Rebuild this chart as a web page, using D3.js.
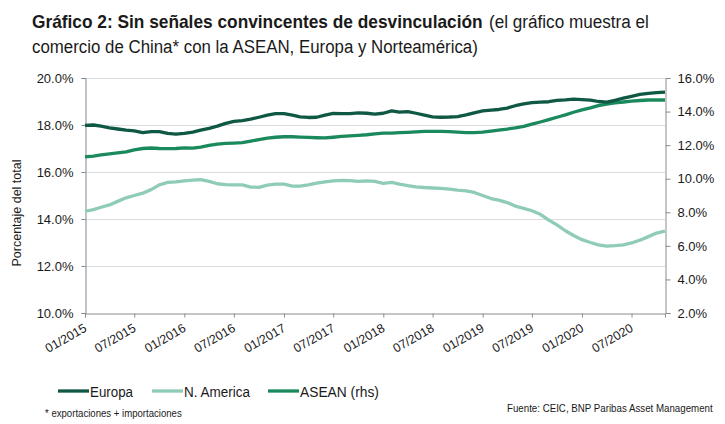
<!DOCTYPE html>
<html>
<head>
<meta charset="utf-8">
<script src="https://cdn.jsdelivr.net/npm/d3@7"></script>
<style>
  body { margin: 0; background: #fff; }
  text { font-family: "Liberation Sans Narrow", "Arial Narrow", "Liberation Sans", Arial, sans-serif; fill: #1a1a1a; }
</style>
</head>
<body>
<svg id="chart" width="725" height="424"></svg>
<script>
// monthly shares of China's trade, 01/2015 .. 11/2020
const firstMonth = new Date(2015, 0, 1);
const lastMonth = new Date(2020, 10, 1);

const europa = [17.98, 18.0, 17.95, 17.88, 17.83, 17.78, 17.75, 17.68, 17.72, 17.72,
  17.64, 17.61, 17.64, 17.7, 17.78, 17.86, 17.95, 18.07, 18.15, 18.19,
  18.25, 18.33, 18.42, 18.48, 18.48, 18.42, 18.35, 18.32, 18.33, 18.42,
  18.49, 18.48, 18.48, 18.52, 18.5, 18.46, 18.5, 18.6, 18.55, 18.57,
  18.5, 18.42, 18.35, 18.33, 18.34, 18.36, 18.43, 18.52, 18.6, 18.63,
  18.66, 18.72, 18.82, 18.9, 18.95, 18.97, 18.99, 19.05, 19.07, 19.1,
  19.08, 19.06, 19.0, 18.97, 19.05, 19.14, 19.22, 19.3, 19.35, 19.38, 19.4];

const nAmerica = [14.33, 14.4, 14.5, 14.6, 14.75, 14.9, 15.0, 15.1, 15.25, 15.45,
  15.56, 15.58, 15.62, 15.65, 15.68, 15.6, 15.5, 15.46, 15.45, 15.45,
  15.36, 15.35, 15.44, 15.48, 15.48, 15.4, 15.4, 15.45, 15.53, 15.58,
  15.62, 15.64, 15.63, 15.6, 15.62, 15.6, 15.52, 15.56, 15.48, 15.42,
  15.37, 15.34, 15.32, 15.3, 15.27, 15.23, 15.2, 15.13, 15.0, 14.87,
  14.8, 14.7, 14.55, 14.45, 14.35, 14.2, 13.95, 13.75, 13.5, 13.3,
  13.12, 13.0, 12.9, 12.85, 12.87, 12.9, 12.98, 13.1, 13.25, 13.4, 13.48];

// right hand scale
const asean = [11.3, 11.35, 11.42, 11.48, 11.54, 11.6, 11.72, 11.8, 11.83, 11.8,
  11.79, 11.8, 11.84, 11.82, 11.88, 11.98, 12.06, 12.1, 12.12, 12.15,
  12.24, 12.33, 12.42, 12.47, 12.5, 12.5, 12.48, 12.46, 12.44, 12.43,
  12.47, 12.52, 12.55, 12.58, 12.62, 12.67, 12.72, 12.72, 12.74, 12.76,
  12.79, 12.82, 12.82, 12.82, 12.81, 12.78, 12.74, 12.74, 12.78, 12.84,
  12.9, 12.96, 13.03, 13.12, 13.25, 13.38, 13.52, 13.66, 13.8, 13.96,
  14.1, 14.22, 14.35, 14.44, 14.52, 14.57, 14.62, 14.66, 14.69, 14.7, 14.69];

const xTickLabels = ["01/2015", "07/2015", "01/2016", "07/2016", "01/2017", "07/2017",
  "01/2018", "07/2018", "01/2019", "07/2019", "01/2020", "07/2020"];
const leftTicks = [10, 12, 14, 16, 18, 20];
const rightTicks = [2, 4, 6, 8, 10, 12, 14, 16];

const colors = { europa: "#0f5844", nAmerica: "#8fccb7", asean: "#1a8a5c" };

const svg = d3.select("#chart");
const pLeft = 85, pRight = 665, pTop = 78, pBottom = 313;

const months = d3.timeMonth.range(firstMonth, d3.timeMonth.offset(lastMonth, 1));
const parseTick = d3.timeParse("%m/%Y");

const x = d3.scaleTime().domain([firstMonth, lastMonth]).range([pLeft, pRight]);
const yL = d3.scaleLinear().domain([10, 20]).range([pBottom, pTop]);
const yR = d3.scaleLinear().domain([2, 16]).range([pBottom, pTop]);

// squeeze a text horizontally so it takes the width seen in the original (narrow font)
function squeeze(sel, width, place, extra) {
  const w = sel.node().getComputedTextLength();
  sel.attr("transform", `${place} ${extra || ""} scale(${(width / w).toFixed(4)},1)`);
  return sel;
}

// title
squeeze(svg.append("text").style("font-size", "19px").style("font-weight", "bold")
  .text("Gráfico 2: Sin señales convincentes de desvinculación"), 451, "translate(32,28)");
squeeze(svg.append("text").style("font-size", "19px")
  .text("(el gráfico muestra el"), 160, "translate(489,28)");
squeeze(svg.append("text").style("font-size", "19px")
  .text("comercio de China* con la ASEAN, Europa y Norteamérica)"), 446, "translate(32,53)");

// gridlines
svg.append("g").selectAll("line").data(leftTicks.slice(1)).join("line")
  .attr("x1", pLeft).attr("x2", pRight)
  .attr("y1", d => yL(d) + 0.5).attr("y2", d => yL(d) + 0.5)
  .attr("stroke", "#d9dce1").attr("stroke-width", 1);

// left axis
const axL = svg.append("g").attr("transform", `translate(${pLeft + 0.5},0)`)
  .call(d3.axisLeft(yL).tickValues(leftTicks).tickFormat(d => d.toFixed(1) + "%").tickSize(4).tickPadding(8));
axL.select(".domain").attr("stroke", "#7d8899");
axL.selectAll(".tick line").attr("stroke", "#7d8899");
axL.selectAll(".tick text").style("font-size", "13px").style("font-family", "Liberation Sans, Arial, sans-serif")
  .attr("fill", "#1a1a1a");

// right axis
const axR = svg.append("g").attr("transform", `translate(${pRight + 0.5},0)`)
  .call(d3.axisRight(yR).tickValues(rightTicks).tickFormat(d => d.toFixed(1) + "%").tickSize(5).tickPadding(7));
axR.select(".domain").attr("stroke", "#8c8c8c");
axR.selectAll(".tick line").attr("stroke", "#8c8c8c");
axR.selectAll(".tick text").style("font-size", "13px").style("font-family", "Liberation Sans, Arial, sans-serif")
  .attr("fill", "#1a1a1a");

// bottom axis
const axB = svg.append("g").attr("transform", `translate(0,${pBottom + 0.5})`)
  .call(d3.axisBottom(x).tickValues(xTickLabels.map(parseTick)).tickFormat(d3.timeFormat("%m/%Y")).tickSize(4));
axB.select(".domain").attr("stroke", "#8c8c8c");
axB.selectAll(".tick line").attr("stroke", "#8c8c8c");
axB.selectAll(".tick text")
  .style("font-size", "12.5px").attr("fill", "#1a1a1a")
  .attr("text-anchor", "end").attr("dy", null).attr("y", null)
  .attr("transform", "translate(2,17) rotate(-30)");

// y title
squeeze(svg.append("text").attr("text-anchor", "middle").style("font-size", "13.5px")
  .text("Porcentaje del total"), 107, "translate(21,213)", "rotate(-90)");

// lines
const lineL = d3.line().x((d, i) => x(months[i])).y(d => yL(d));
const lineR = d3.line().x((d, i) => x(months[i])).y(d => yR(d));

svg.append("path").datum(nAmerica).attr("d", lineL).attr("fill", "none")
  .attr("stroke", colors.nAmerica).attr("stroke-width", 3.3).attr("stroke-linejoin", "round");
svg.append("path").datum(asean).attr("d", lineR).attr("fill", "none")
  .attr("stroke", colors.asean).attr("stroke-width", 3.3).attr("stroke-linejoin", "round");
svg.append("path").datum(europa).attr("d", lineL).attr("fill", "none")
  .attr("stroke", colors.europa).attr("stroke-width", 3.3).attr("stroke-linejoin", "round");

// legend
const legendItems = [
  { name: "Europa", color: colors.europa, x: 58, w: 43 },
  { name: "N. America", color: colors.nAmerica, x: 152, w: 66 },
  { name: "ASEAN (rhs)", color: colors.asean, x: 268, w: 79 }
];
legendItems.forEach(d => {
  svg.append("line").attr("x1", d.x).attr("x2", d.x + 31).attr("y1", 391).attr("y2", 391)
    .attr("stroke", d.color).attr("stroke-width", 3.3);
  squeeze(svg.append("text").style("font-size", "15.5px").text(d.name), d.w, `translate(${d.x + 32},396.5)`);
});

// notes
squeeze(svg.append("text").style("font-size", "10.5px")
  .text("* exportaciones + importaciones"), 137, "translate(45,417)");
squeeze(svg.append("text").style("font-size", "10.5px")
  .text("Fuente: CEIC, BNP Paribas Asset Management"), 206, "translate(507,412)");
</script>
</body>
</html>
